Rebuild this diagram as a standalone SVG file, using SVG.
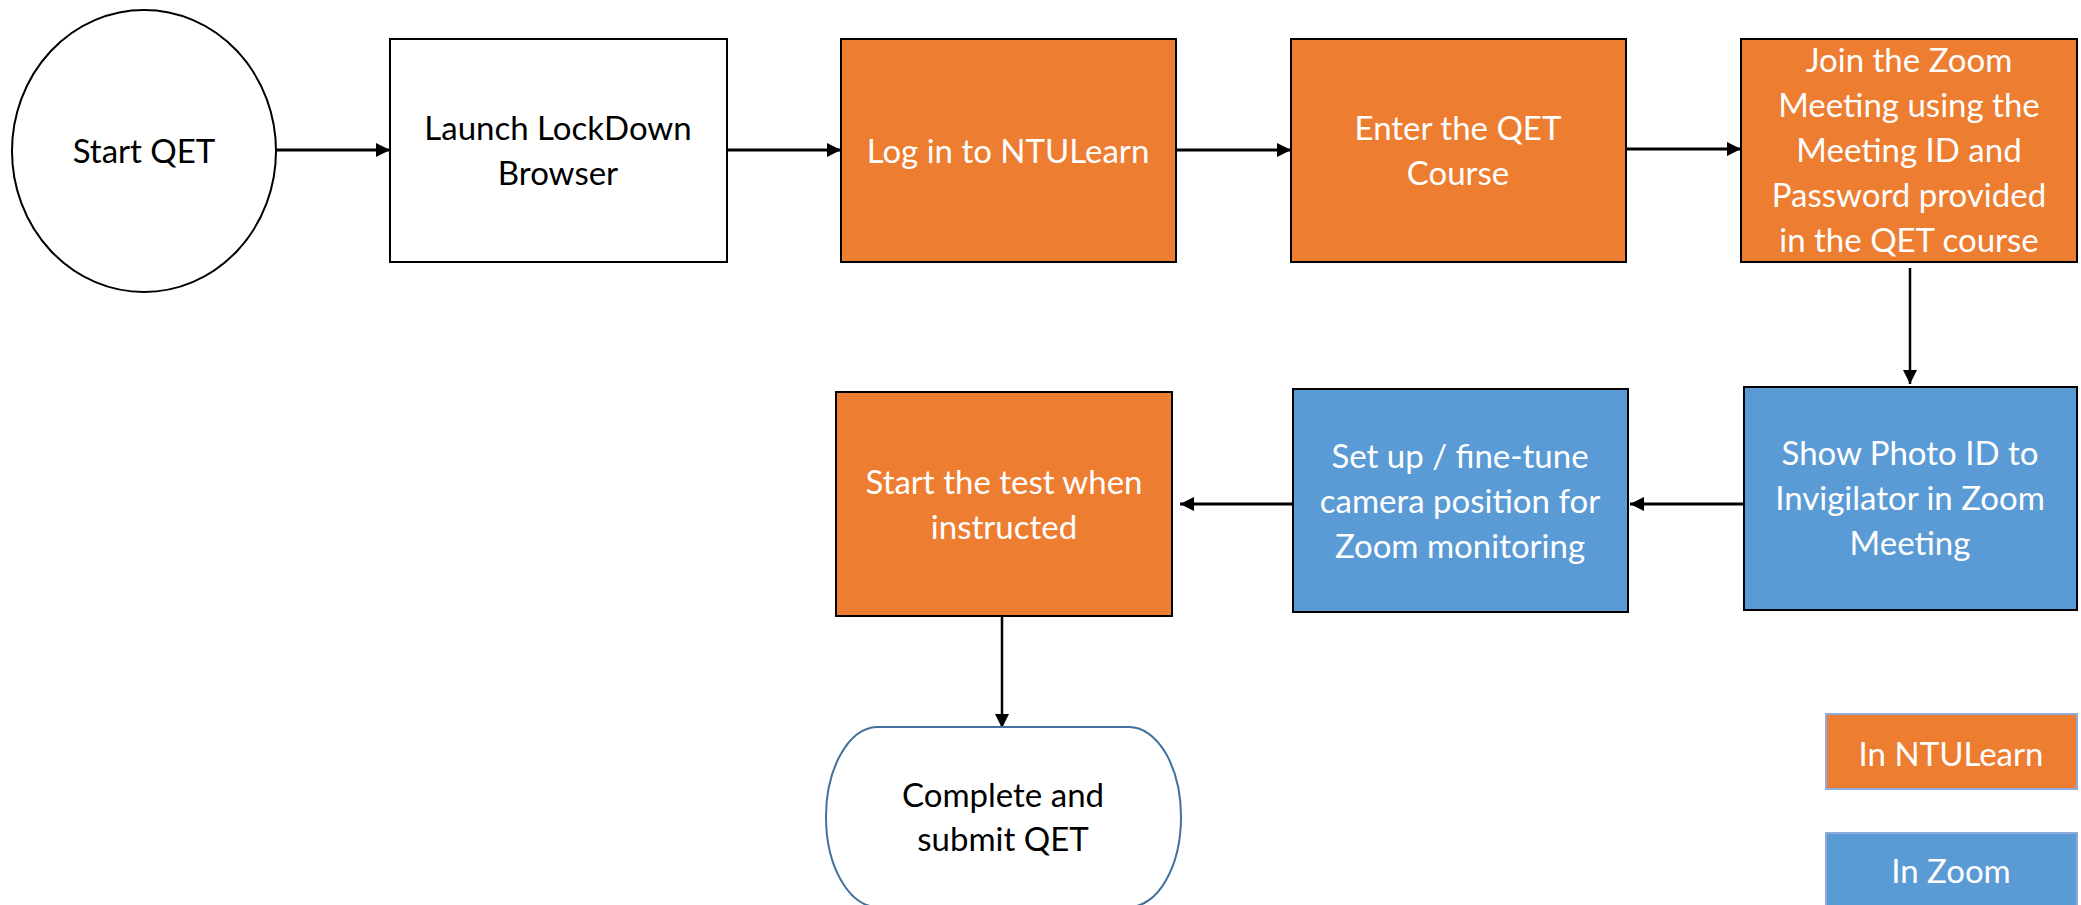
<svg xmlns="http://www.w3.org/2000/svg" width="2081" height="905" viewBox="0 0 2081 905">
<style>
text{font-family:Lato,"Liberation Sans",sans-serif;font-size:33px;text-anchor:middle}
.dark{fill:#000}
.light{fill:#fff}
.box{stroke:#000;stroke-width:2}
.org{fill:#ED7D31}
.blu{fill:#5B9BD5}
.leg{stroke:#8FAADC;stroke-width:2}
.con{stroke:#000;fill:none;marker-end:url(#ah)}
</style>
<defs>
<marker id="ah" viewBox="0 0 10 10" refX="10" refY="5" markerWidth="14" markerHeight="14" markerUnits="userSpaceOnUse" orient="auto">
<path d="M0,0 L10,5 L0,10 z" fill="#000"/>
</marker>
</defs>
<rect width="2081" height="905" fill="#fff"/>
<g id="connectors">
<line class="con" x1="276" y1="150" x2="390" y2="150" stroke-width="3"/>
<line class="con" x1="727" y1="150" x2="841" y2="150" stroke-width="3"/>
<line class="con" x1="1176" y1="150" x2="1291" y2="150" stroke-width="3"/>
<line class="con" x1="1626" y1="149" x2="1741" y2="149" stroke-width="3"/>
<line class="con" x1="1910" y1="268" x2="1910" y2="384" stroke-width="2.5"/>
<line class="con" x1="1744" y1="504" x2="1630" y2="504" stroke-width="3"/>
<line class="con" x1="1293" y1="504" x2="1180" y2="504" stroke-width="3"/>
<line class="con" x1="1002" y1="616" x2="1002" y2="728" stroke-width="2.5"/>
</g>
<g id="start">
<ellipse cx="144" cy="151" rx="132" ry="141" fill="#fff" stroke="#000" stroke-width="2"/>
<text class="dark" x="144" y="163">Start QET</text>
</g>
<g id="launch">
<rect class="box" x="390" y="39" width="337" height="223" fill="#fff"/>
<text class="dark" x="558" y="140">Launch LockDown</text>
<text class="dark" x="558" y="185">Browser</text>
</g>
<g id="login">
<rect class="box org" x="841" y="39" width="335" height="223"/>
<text class="light" x="1008" y="163">Log in to NTULearn</text>
</g>
<g id="enter">
<rect class="box org" x="1291" y="39" width="335" height="223"/>
<text class="light" x="1458" y="140">Enter the QET</text>
<text class="light" x="1458" y="185">Course</text>
</g>
<g id="join">
<rect class="box org" x="1741" y="39" width="336" height="223"/>
<text class="light" x="1909" y="72">Join the Zoom</text>
<text class="light" x="1909" y="117">Meeting using the</text>
<text class="light" x="1909" y="162">Meeting ID and</text>
<text class="light" x="1909" y="207">Password provided</text>
<text class="light" x="1909" y="252">in the QET course</text>
</g>
<g id="showphoto">
<rect class="box blu" x="1744" y="387" width="333" height="223"/>
<text class="light" x="1910" y="465">Show Photo ID to</text>
<text class="light" x="1910" y="510">Invigilator in Zoom</text>
<text class="light" x="1910" y="555">Meeting</text>
</g>
<g id="setup">
<rect class="box blu" x="1293" y="389" width="335" height="223"/>
<text class="light" x="1460" y="468">Set up / fine-tune</text>
<text class="light" x="1460" y="513">camera position for</text>
<text class="light" x="1460" y="558">Zoom monitoring</text>
</g>
<g id="starttest">
<rect class="box org" x="836" y="392" width="336" height="224"/>
<text class="light" x="1004" y="494">Start the test when</text>
<text class="light" x="1004" y="539">instructed</text>
</g>
<g id="complete">
<path d="M877,727 L1129,727 A52,90 0 0 1 1181,817 A52,90 0 0 1 1129,907 L877,907 A52,90 0 0 1 826,817 A52,90 0 0 1 877,727 z" fill="#fff" stroke="#41719C" stroke-width="2"/>
<text class="dark" x="1003" y="807">Complete and</text>
<text class="dark" x="1003" y="851">submit QET</text>
</g>
<g id="legend-ntulearn">
<rect class="leg org" x="1826" y="714" width="251" height="75"/>
<text class="light" x="1951" y="766">In NTULearn</text>
</g>
<g id="legend-zoom">
<rect class="leg blu" x="1826" y="833" width="251" height="80"/>
<text class="light" x="1951" y="883">In Zoom</text>
</g>
</svg>
